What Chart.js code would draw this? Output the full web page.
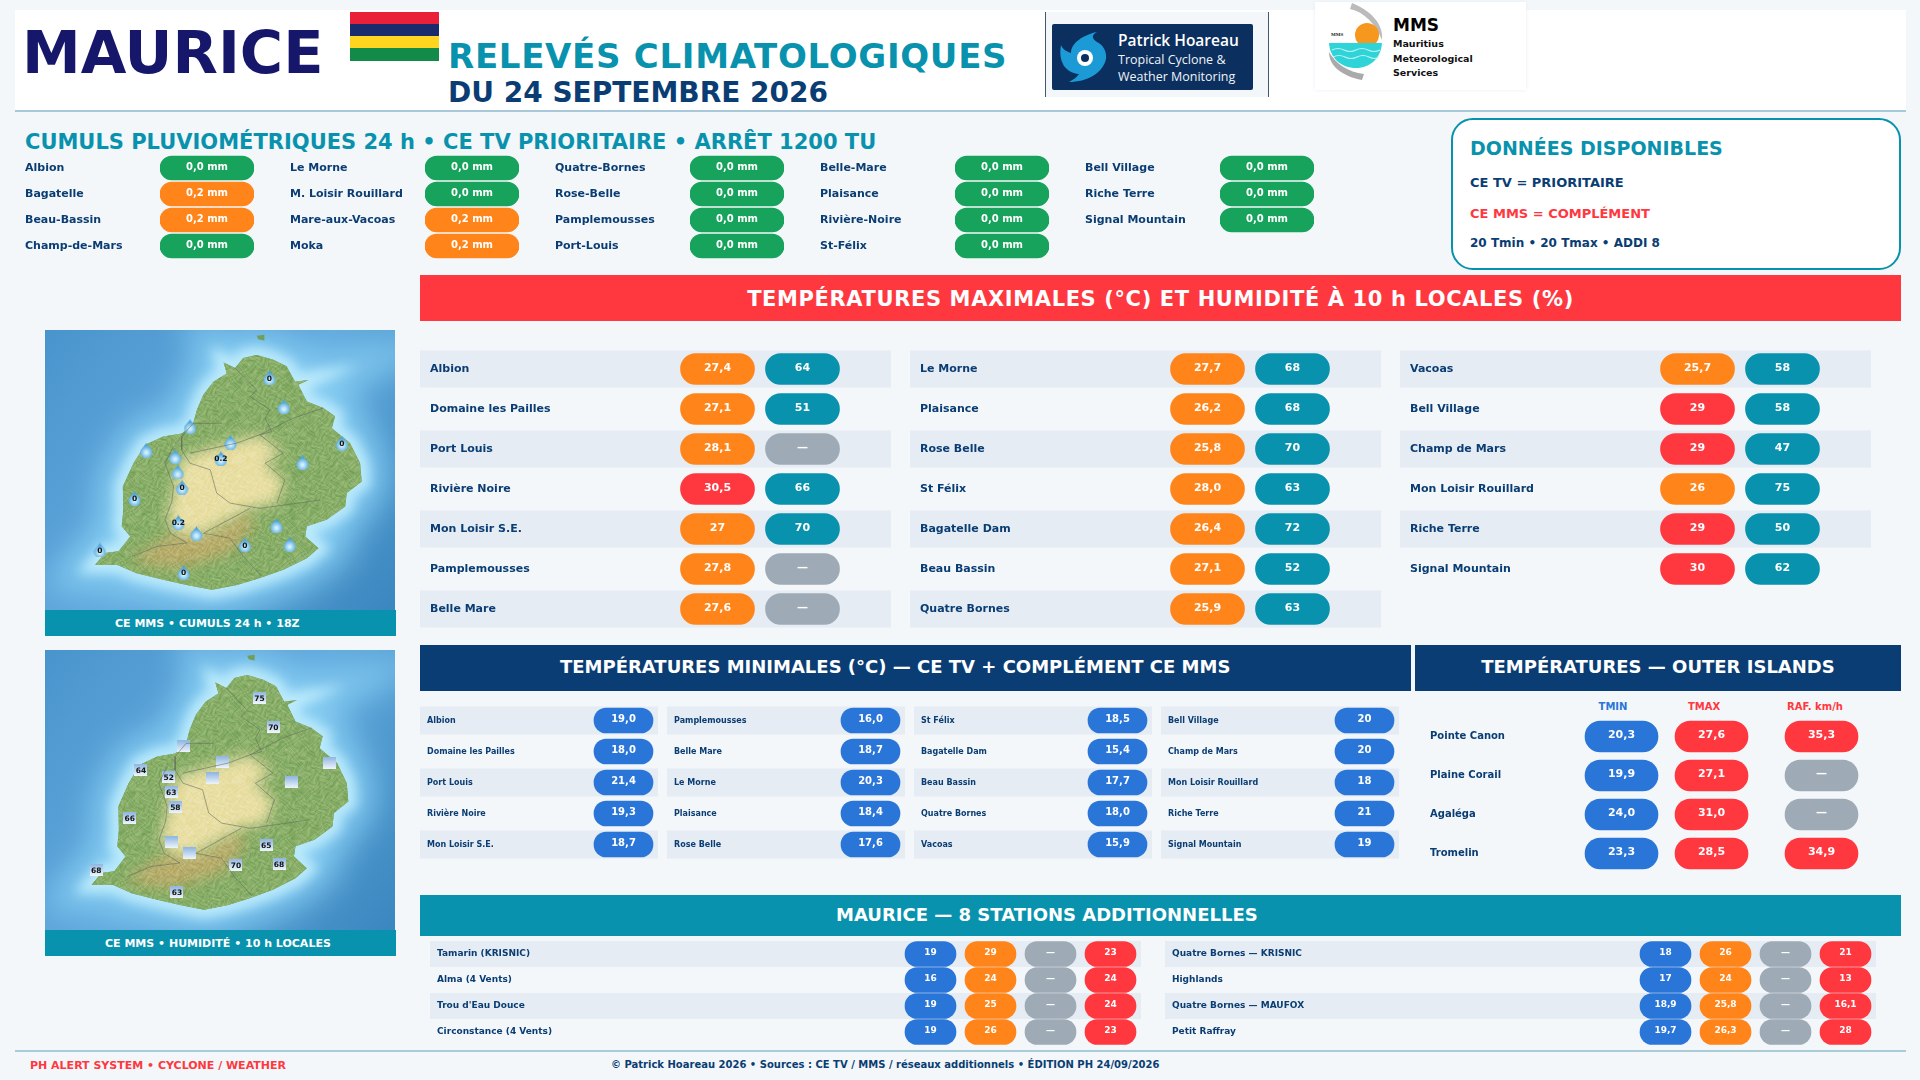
<!DOCTYPE html>
<html lang="fr">
<head>
<meta charset="UTF-8">
<title>Maurice - Relevés climatologiques</title>
<script src="https://cdn.jsdelivr.net/npm/chart.js"></script>
<style>
    * { box-sizing: border-box; margin: 0; padding: 0; }
    html, body { width: 1920px; height: 1080px; overflow: hidden; background: #f3f7fa; font-family: "DejaVu Sans", sans-serif; font-weight: bold; color: #0a3d73; }
    .box, canvas, .txt, svg { position: absolute; display: block; }
    .txt { transform: translateY(-50%); white-space: nowrap; }
    .band { position: absolute; display: flex; align-items: center; justify-content: center; color: #fff; white-space: nowrap; }
    .caption { position: absolute; left: 45px; width: 351px; height: 26px; background: #0892ad; color: #fff; font-size: 11px; display: flex; align-items: center; }
</style>
</head>
<body>

<!-- header -->
<div class="box" style="left:15px;top:10px;width:1891px;height:102px;background:#fff;border-bottom:2px solid #a9c9da"></div>
<div class="txt" style="left:22px;top:52px;font-size:59px;color:#16166b">MAURICE</div>
<div class="box" style="left:350px;top:12px;width:89px;height:12px;background:#ea2039"></div>
<div class="box" style="left:350px;top:24px;width:89px;height:12px;background:#1a2b6d"></div>
<div class="box" style="left:350px;top:36px;width:89px;height:12px;background:#ffd520"></div>
<div class="box" style="left:350px;top:48px;width:89px;height:13px;background:#138b48"></div>
<div class="txt" style="left:448px;top:56px;font-size:34px;color:#0892ad;letter-spacing:.7px">RELEVÉS CLIMATOLOGIQUES</div>
<div class="txt" style="left:448px;top:92px;font-size:28px;color:#0a3d73">DU 24 SEPTEMBRE 2026</div>

<!-- logo Patrick Hoareau -->
<div class="box" style="left:1045px;top:12px;width:224px;height:85px;background:#f4f7fa;border-left:1px solid #44586c;border-right:1px solid #44586c"></div>
<div class="box" style="left:1052px;top:24px;width:201px;height:66px;background:#0b2f5e;border-radius:2px"></div>
<svg style="left:1058px;top:30px" width="54" height="54" viewBox="-27 -27 54 54">
    <path d="M12 -25 C-2 -22 -14 -14 -14 -4 C-20 -6 -23 -9 -24 -12 C-27 4 -20 16 -6 17 C-8 20 -12 23 -16 25 C2 25 18 16 21 2 C22 -6 18 -12 12 -15 C7 -18 6 -22 12 -25 Z" fill="#1c9ad6"/>
    <circle cx="0" cy="1" r="8" fill="#fff"/>
    <circle cx="0" cy="1" r="4" fill="#0b2f5e"/>
</svg>
<div class="txt" style="left:1118px;top:40px;font:600 15.5px 'Open Sans';color:#fff">Patrick Hoareau</div>
<div class="txt" style="left:1118px;top:59px;font:400 12.5px 'Open Sans';color:#eef3f8">Tropical Cyclone &amp;</div>
<div class="txt" style="left:1118px;top:76px;font:400 12.5px 'Open Sans';color:#eef3f8">Weather Monitoring</div>

<!-- logo MMS -->
<div class="box" style="left:1315px;top:2px;width:211px;height:88px;background:#fff;box-shadow:0 0 4px #e6ecf1"></div>
<svg style="left:1326px;top:2px" width="60" height="80" viewBox="0 0 60 80">
    <path d="M26 1 C44 8 58 22 56 38 C50 22 38 10 24 7 Z" fill="#bbb"/>
    <path d="M36 78 C16 74 3 64 3 50 C10 62 22 70 38 72 Z" fill="#aaa"/>
    <circle cx="41" cy="33" r="12" fill="#f5981d"/>
    <path d="M3 41 H56 C55 56 44 66 30 66 C15 66 4 56 3 41 Z" fill="#2fd4d8"/>
    <path d="M6 48 Q12 45 18 48 T30 48 T42 48 T54 48 M7 55 Q13 52 19 55 T31 55 T43 55 T53 55" stroke="#bff3f3" stroke-width="1.2" fill="none"/>
    <text x="5" y="34" font-size="5" font-family="Liberation Serif" fill="#222">MMS</text>
</svg>
<div class="txt" style="left:1393px;top:25px;font-size:17px;color:#000">MMS</div>
<div class="txt" style="left:1393px;top:43px;font-size:9.5px;color:#111">Mauritius</div>
<div class="txt" style="left:1393px;top:58px;font-size:9.5px;color:#111">Meteorological</div>
<div class="txt" style="left:1393px;top:72px;font-size:9.5px;color:#111">Services</div>

<!-- rain -->
<div class="txt" style="left:25px;top:142px;font-size:21px;color:#0892ad">CUMULS PLUVIOMÉTRIQUES 24 h • CE TV PRIORITAIRE • ARRÊT 1200 TU</div>
<canvas id="rain1" style="left:25px;top:155px"></canvas>
<canvas id="rain2" style="left:290px;top:155px"></canvas>
<canvas id="rain3" style="left:555px;top:155px"></canvas>
<canvas id="rain4" style="left:820px;top:155px"></canvas>
<canvas id="rain5" style="left:1085px;top:155px"></canvas>

<div class="box" style="left:1451px;top:118px;width:450px;height:152px;background:#fff;border:2px solid #0892ad;border-radius:22px"></div>
<div class="txt" style="left:1470px;top:148px;font-size:19px;color:#0892ad">DONNÉES DISPONIBLES</div>
<div class="txt" style="left:1470px;top:182px;font-size:13px">CE TV = PRIORITAIRE</div>
<div class="txt" style="left:1470px;top:213px;font-size:13px;color:#ff383f">CE MMS = COMPLÉMENT</div>
<div class="txt" style="left:1470px;top:243px;font-size:12px">20 Tmin • 20 Tmax • ADDI 8</div>

<!-- maps -->
<canvas id="mapRain" style="left:45px;top:330px"></canvas>
<div class="caption" style="top:610px;padding-left:70px">CE MMS • CUMULS 24 h • 18Z</div>
<canvas id="mapHum" style="left:45px;top:650px"></canvas>
<div class="caption" style="top:930px;padding-left:60px">CE MMS • HUMIDITÉ • 10 h LOCALES</div>

<!-- tmax -->
<div class="band" style="left:420px;top:275px;width:1481px;height:46px;background:#ff383f;font-size:21px;letter-spacing:.62px;padding-top:1px">TEMPÉRATURES MAXIMALES (°C) ET HUMIDITÉ À 10 h LOCALES (%)</div>
<canvas id="tmax1" style="left:420px;top:349px"></canvas>
<canvas id="tmax2" style="left:910px;top:349px"></canvas>
<canvas id="tmax3" style="left:1400px;top:349px"></canvas>

<!-- tmin -->
<div class="band" style="left:420px;top:645px;width:991px;height:46px;background:#0a3d73;font-size:18px;justify-content:flex-start;padding:0 0 4px 140px">TEMPÉRATURES MINIMALES (°C) — CE TV + COMPLÉMENT CE MMS</div>
<canvas id="tmin1" style="left:420px;top:705px"></canvas>
<canvas id="tmin2" style="left:667px;top:705px"></canvas>
<canvas id="tmin3" style="left:914px;top:705px"></canvas>
<canvas id="tmin4" style="left:1161px;top:705px"></canvas>

<!-- outer islands -->
<div class="band" style="left:1415px;top:645px;width:486px;height:46px;background:#0a3d73;font-size:18px;padding-bottom:4px">TEMPÉRATURES — OUTER ISLANDS</div>
<div class="txt" style="left:1613px;top:706px;font-size:10px;color:#2a75d8;transform:translate(-50%,-50%)">TMIN</div>
<div class="txt" style="left:1704px;top:706px;font-size:10px;color:#ff383f;transform:translate(-50%,-50%)">TMAX</div>
<div class="txt" style="left:1815px;top:706px;font-size:10px;color:#ff383f;transform:translate(-50%,-50%)">RAF. km/h</div>
<canvas id="outer" style="left:1415px;top:717px"></canvas>

<!-- additional -->
<div class="band" style="left:420px;top:895px;width:1481px;height:41px;background:#0892ad;font-size:18px;justify-content:flex-start;padding:0 0 2px 416px">MAURICE — 8 STATIONS ADDITIONNELLES</div>
<canvas id="addi1" style="left:430px;top:941px"></canvas>
<canvas id="addi2" style="left:1165px;top:941px"></canvas>

<!-- footer -->
<div class="box" style="left:15px;top:1050px;width:1891px;height:2px;background:#a9cdd8"></div>
<div class="txt" style="left:30px;top:1065px;font-size:11px;color:#ff383f">PH ALERT SYSTEM • CYCLONE / WEATHER</div>
<div class="txt" style="left:611px;top:1064px;font-size:10px">© Patrick Hoareau 2026 • Sources : CE TV / MMS / réseaux additionnels • ÉDITION PH 24/09/2026</div>

<script>
// rain 24 h
const rainNames1 = ['Albion', 'Bagatelle', 'Beau-Bassin', 'Champ-de-Mars'];
const rainValues1 = ['0,0', '0,2', '0,2', '0,0'];
const rainNames2 = ['Le Morne', 'M. Loisir Rouillard', 'Mare-aux-Vacoas', 'Moka'];
const rainValues2 = ['0,0', '0,0', '0,2', '0,2'];
const rainNames3 = ['Quatre-Bornes', 'Rose-Belle', 'Pamplemousses', 'Port-Louis'];
const rainValues3 = ['0,0', '0,0', '0,0', '0,0'];
const rainNames4 = ['Belle-Mare', 'Plaisance', 'Rivière-Noire', 'St-Félix'];
const rainValues4 = ['0,0', '0,0', '0,0', '0,0'];
const rainNames5 = ['Bell Village', 'Riche Terre', 'Signal Mountain'];
const rainValues5 = ['0,0', '0,0', '0,0'];

// tmax + humidity
const tmaxNames1 = ['Albion', 'Domaine les Pailles', 'Port Louis', 'Rivière Noire', 'Mon Loisir S.E.', 'Pamplemousses', 'Belle Mare'];
const tmaxValues1 = ['27,4', '27,1', '28,1', '30,5', '27', '27,8', '27,6'];
const humValues1 = ['64', '51', null, '66', '70', null, null];
const tmaxNames2 = ['Le Morne', 'Plaisance', 'Rose Belle', 'St Félix', 'Bagatelle Dam', 'Beau Bassin', 'Quatre Bornes'];
const tmaxValues2 = ['27,7', '26,2', '25,8', '28,0', '26,4', '27,1', '25,9'];
const humValues2 = ['68', '68', '70', '63', '72', '52', '63'];
const tmaxNames3 = ['Vacoas', 'Bell Village', 'Champ de Mars', 'Mon Loisir Rouillard', 'Riche Terre', 'Signal Mountain'];
const tmaxValues3 = ['25,7', '29', '29', '26', '29', '30'];
const humValues3 = ['58', '58', '47', '75', '50', '62'];

// tmin
const tminNames1 = ['Albion', 'Domaine les Pailles', 'Port Louis', 'Rivière Noire', 'Mon Loisir S.E.'];
const tminValues1 = ['19,0', '18,0', '21,4', '19,3', '18,7'];
const tminNames2 = ['Pamplemousses', 'Belle Mare', 'Le Morne', 'Plaisance', 'Rose Belle'];
const tminValues2 = ['16,0', '18,7', '20,3', '18,4', '17,6'];
const tminNames3 = ['St Félix', 'Bagatelle Dam', 'Beau Bassin', 'Quatre Bornes', 'Vacoas'];
const tminValues3 = ['18,5', '15,4', '17,7', '18,0', '15,9'];
const tminNames4 = ['Bell Village', 'Champ de Mars', 'Mon Loisir Rouillard', 'Riche Terre', 'Signal Mountain'];
const tminValues4 = ['20', '20', '18', '21', '19'];

// outer islands
const outerNames = ['Pointe Canon', 'Plaine Corail', 'Agaléga', 'Tromelin'];
const outerTmin = ['20,3', '19,9', '24,0', '23,3'];
const outerTmax = ['27,6', '27,1', '31,0', '28,5'];
const outerGust = ['35,3', null, null, '34,9'];

// additional stations
const addiNames1 = ['Tamarin (KRISNIC)', 'Alma (4 Vents)', "Trou d'Eau Douce", 'Circonstance (4 Vents)'];
const addiTmin1 = ['19', '16', '19', '19'];
const addiTmax1 = ['29', '24', '25', '26'];
const addiRain1 = [null, null, null, null];
const addiGust1 = ['23', '24', '24', '23'];
const addiNames2 = ['Quatre Bornes — KRISNIC', 'Highlands', 'Quatre Bornes — MAUFOX', 'Petit Raffray'];
const addiTmin2 = ['18', '17', '18,9', '19,7'];
const addiTmax2 = ['26', '24', '25,8', '26,3'];
const addiRain2 = [null, null, null, null];
const addiGust2 = ['21', '13', '16,1', '28'];

// map stations, lon / lat
const stationLon = [57.627, 57.654, 57.763, 57.689, 57.554, 57.536, 57.478, 57.396, 57.450, 57.455, 57.463, 57.374, 57.456, 57.490, 57.640, 57.665, 57.581, 57.309, 57.466];
const stationLat = [-20.036, -20.102, -20.185, -20.229, -20.183, -20.220, -20.147, -20.201, -20.216, -20.251, -20.286, -20.311, -20.366, -20.391, -20.373, -20.416, -20.417, -20.429, -20.480];
const stationRain = ['0', null, '0', null, null, '0.2', null, null, null, null, '0', '0', '0.2', null, null, null, '0', '0', '0'];
const stationHum = ['75', '70', null, null, null, null, null, '64', '52', '63', '58', '66', null, null, '65', '68', '70', '68', '63'];

// island shapes
const coastLon = [57.541, 57.5625, 57.578, 57.603, 57.634, 57.659, 57.675, 57.700, 57.681, 57.697, 57.728, 57.750, 57.744, 57.778, 57.797, 57.800, 57.772, 57.769, 57.734, 57.697, 57.694, 57.719, 57.697, 57.653, 57.609, 57.566, 57.519, 57.472, 57.428, 57.378, 57.341, 57.300, 57.319, 57.344, 57.366, 57.350, 57.353, 57.352, 57.372, 57.394, 57.428, 57.463, 57.484, 57.491, 57.503, 57.522, 57.547];
const coastLat = [-20.001, -20.014, -19.991, -19.984, -19.995, -20.010, -20.045, -20.041, -20.052, -20.090, -20.105, -20.124, -20.151, -20.185, -20.231, -20.273, -20.299, -20.330, -20.360, -20.375, -20.398, -20.425, -20.448, -20.474, -20.493, -20.509, -20.520, -20.509, -20.497, -20.482, -20.463, -20.463, -20.436, -20.432, -20.398, -20.375, -20.337, -20.284, -20.231, -20.189, -20.170, -20.163, -20.140, -20.109, -20.075, -20.045, -20.026];
const plateauLon = [57.553, 57.609, 57.653, 57.616, 57.656, 57.641, 57.591, 57.528, 57.491, 57.453, 57.434, 57.447, 57.453, 57.472, 57.516];
const plateauLat = [-20.185, -20.166, -20.208, -20.231, -20.269, -20.322, -20.334, -20.375, -20.398, -20.391, -20.353, -20.299, -20.239, -20.216, -20.197];
const southLon = [57.366, 57.447, 57.528, 57.578, 57.603, 57.553, 57.459, 57.397];
const southLat = [-20.451, -20.391, -20.383, -20.341, -20.368, -20.436, -20.470, -20.463];
const isletLon = [57.603, 57.6175, 57.6175, 57.606];
const isletLat = [-19.940, -19.938, -19.951, -19.948];
const districtLines = [
    [[57.5625, -20.014], [57.603, -20.064], [57.591, -20.079], [57.628, -20.109], [57.619, -20.128], [57.631, -20.159], [57.609, -20.166], [57.653, -20.208], [57.619, -20.231], [57.656, -20.269], [57.641, -20.322]],
    [[57.728, -20.105], [57.672, -20.128], [57.609, -20.166], [57.566, -20.185], [57.478, -20.208]],
    [[57.5375, -20.140], [57.484, -20.140], [57.4625, -20.170], [57.4625, -20.201], [57.478, -20.231], [57.516, -20.246], [57.528, -20.299], [57.553, -20.322], [57.609, -20.334], [57.722, -20.315]],
    [[57.591, -20.334], [57.503, -20.391], [57.553, -20.402], [57.578, -20.444], [57.6125, -20.489]],
    [[57.447, -20.193], [57.431, -20.231], [57.447, -20.284], [57.444, -20.318], [57.431, -20.360], [57.441, -20.391], [57.472, -20.413], [57.416, -20.421], [57.369, -20.444]]
];

const FONT = '"DejaVu Sans", sans-serif';
const NAVY = '#0a3d73', GREEN = '#18a35d', ORANGE = '#ff851b', RED = '#ff383f', TEAL = '#0892ad', BLUE = '#2a75d8', GREY = '#9eaab6';

const num = s => parseFloat(s.replace(',', '.'));
const rainColor = v => num(v) > 0 ? ORANGE : GREEN;
const tmaxColor = v => num(v) >= 29 ? RED : ORANGE;
const fixed = c => () => c;

// stripes behind the rows, value text on top of the pills
const pillPlugin = {
    id: 'pillTable',
    beforeDraw(chart, args, o) {
        if (!o.stripeH) return;
        const ctx = chart.ctx, y = chart.scales.y;
        ctx.save();
        ctx.fillStyle = '#e5ecf3';
        chart.data.labels.forEach((l, i) => {
            if (i % 2 === 0) ctx.fillRect(0, y.getPixelForValue(i) - o.stripeH / 2, chart.width, o.stripeH);
        });
        ctx.restore();
    },
    afterDatasetsDraw(chart, args, o) {
        const ctx = chart.ctx;
        ctx.save();
        ctx.font = 'bold ' + o.valueSize + 'px ' + FONT;
        ctx.fillStyle = '#fff';
        ctx.textAlign = 'center';
        ctx.textBaseline = 'middle';
        chart.data.datasets.forEach((ds, d) => {
            chart.getDatasetMeta(d).data.forEach((bar, i) => {
                const v = ds.texts[i];
                const c = bar.getCenterPoint();
                ctx.fillText(v === null ? '—' : v + o.suffix, c.x, c.y - 1);
            });
        });
        ctx.restore();
    }
};

function pillTable(id, names, columns, s) {
    const canvas = document.getElementById(id);
    canvas.width = s.width;
    canvas.height = names.length * s.rowH;
    const slots = s.slots || columns.map((c, i) => i);
    const margin = (1 - s.fill) / 2;
    new Chart(canvas, {
        type: 'bar',
        data: {
            labels: names,
            datasets: columns.map((col, j) => ({
                data: col.values.map(() => [slots[j] + margin, slots[j] + 1 - margin]),
                texts: col.values,
                backgroundColor: col.values.map(v => v === null ? GREY : col.color(v)),
                barThickness: s.barH,
                borderRadius: s.barH / 2,
                borderSkipped: false,
                grouped: false
            }))
        },
        options: {
            indexAxis: 'y',
            responsive: false,
            animation: false,
            layout: { autoPadding: false, padding: { left: s.padLeft, right: s.padRight, top: 0, bottom: 0 } },
            plugins: {
                legend: { display: false },
                tooltip: { enabled: false },
                pillTable: { stripeH: s.stripeH, valueSize: s.valueSize, suffix: s.suffix || '' }
            },
            scales: {
                x: { type: 'linear', display: false, min: 0, max: slots[slots.length - 1] + 1 },
                y: {
                    grid: { display: false },
                    border: { display: false },
                    afterFit(scale) {
                        // rows must fill the canvas, no room for half a tick label
                        scale.width = s.labelW;
                        scale.paddingTop = 0;
                        scale.paddingBottom = 0;
                    },
                    ticks: { crossAlign: 'far', autoSkip: false, padding: 0, color: NAVY, font: { family: FONT, weight: 'bold', size: s.labelSize } }
                }
            }
        },
        plugins: [pillPlugin]
    });
}

const rainStyle = { width: 231, rowH: 26, barH: 24, padLeft: 0, padRight: 2, labelW: 135, fill: 1, labelSize: 11, valueSize: 10, suffix: ' mm' };
pillTable('rain1', rainNames1, [{ values: rainValues1, color: rainColor }], rainStyle);
pillTable('rain2', rainNames2, [{ values: rainValues2, color: rainColor }], rainStyle);
pillTable('rain3', rainNames3, [{ values: rainValues3, color: rainColor }], rainStyle);
pillTable('rain4', rainNames4, [{ values: rainValues4, color: rainColor }], rainStyle);
pillTable('rain5', rainNames5, [{ values: rainValues5, color: rainColor }], rainStyle);

const tmaxStyle = { width: 471, rowH: 40, barH: 31, stripeH: 37, padLeft: 10, padRight: 46, labelW: 245, fill: 74 / 85, labelSize: 11, valueSize: 11 };
pillTable('tmax1', tmaxNames1, [{ values: tmaxValues1, color: tmaxColor }, { values: humValues1, color: fixed(TEAL) }], tmaxStyle);
pillTable('tmax2', tmaxNames2, [{ values: tmaxValues2, color: tmaxColor }, { values: humValues2, color: fixed(TEAL) }], tmaxStyle);
pillTable('tmax3', tmaxNames3, [{ values: tmaxValues3, color: tmaxColor }, { values: humValues3, color: fixed(TEAL) }], tmaxStyle);

const tminStyle = { width: 238, rowH: 31, barH: 25, stripeH: 28, padLeft: 7, padRight: 3.5, labelW: 165.5, fill: 59 / 62, labelSize: 8, valueSize: 10 };
pillTable('tmin1', tminNames1, [{ values: tminValues1, color: fixed(BLUE) }], tminStyle);
pillTable('tmin2', tminNames2, [{ values: tminValues2, color: fixed(BLUE) }], tminStyle);
pillTable('tmin3', tminNames3, [{ values: tminValues3, color: fixed(BLUE) }], tminStyle);
pillTable('tmin4', tminNames4, [{ values: tminValues4, color: fixed(BLUE) }], tminStyle);

pillTable('outer', outerNames, [
    { values: outerTmin, color: fixed(BLUE) },
    { values: outerTmax, color: fixed(RED) },
    { values: outerGust, color: fixed(RED) }
], { width: 486, rowH: 39, barH: 31, padLeft: 15, padRight: 34.5, labelW: 146.5, slots: [0, 1, 2.222], fill: 73 / 90, labelSize: 10, valueSize: 11 });

const addiStyle = { width: 711, rowH: 26, barH: 25, stripeH: 26, padLeft: 7, padRight: 0.5, labelW: 463.5, fill: 51 / 60, labelSize: 9, valueSize: 9 };
pillTable('addi1', addiNames1, [
    { values: addiTmin1, color: fixed(BLUE) }, { values: addiTmax1, color: fixed(ORANGE) },
    { values: addiRain1, color: fixed(GREY) }, { values: addiGust1, color: fixed(RED) }
], addiStyle);
pillTable('addi2', addiNames2, [
    { values: addiTmin2, color: fixed(BLUE) }, { values: addiTmax2, color: fixed(ORANGE) },
    { values: addiRain2, color: fixed(GREY) }, { values: addiGust2, color: fixed(RED) }
], addiStyle);

// marker images for the two maps
function dropMarker() {
    const c = document.createElement('canvas');
    c.width = 13; c.height = 15;
    const g = c.getContext('2d');
    const grad = g.createRadialGradient(6.5, 10, 1, 6.5, 10, 7);
    grad.addColorStop(0, '#d2f0fc');
    grad.addColorStop(1, '#4ba3dc');
    g.fillStyle = grad;
    g.beginPath();
    g.moveTo(6.5, 0);
    g.bezierCurveTo(8, 4, 12.5, 6, 12.5, 9.5);
    g.arc(6.5, 9.5, 6, 0, Math.PI);
    g.bezierCurveTo(0.5, 6, 5, 4, 6.5, 0);
    g.fill();
    return c;
}
function boxMarker() {
    const c = document.createElement('canvas');
    c.width = 13; c.height = 12;
    const g = c.getContext('2d');
    const grad = g.createLinearGradient(0, 0, 0, 12);
    grad.addColorStop(0, '#8fb6e2');
    grad.addColorStop(1, '#f2f7fc');
    g.fillStyle = grad;
    g.fillRect(0, 0, 13, 12);
    return c;
}

// relief shading for the land, just a texture
function reliefTexture(w, h) {
    const c = document.createElement('canvas');
    c.width = w; c.height = h;
    const g = c.getContext('2d');
    const img = g.createImageData(w, h);
    for (let y = 0; y < h; y++) {
        for (let x = 0; x < w; x++) {
            const wx = x + 6 * Math.sin(y * 0.137) + 3 * Math.sin(y * 0.41 + x * 0.23);
            const wy = y + 6 * Math.sin(x * 0.113) + 3 * Math.sin(x * 0.37 - y * 0.19);
            const n = Math.sin(wx * 0.83 + wy * 0.31) + Math.sin(wx * 0.29 - wy * 1.07)
                + 0.7 * Math.sin(wx * 1.61 + wy * 0.97) + 0.7 * Math.sin(wx * 1.13 - wy * 1.73);
            const v = 128 + n * 26;
            const i = (y * w + x) * 4;
            img.data[i] = img.data[i + 1] = img.data[i + 2] = v;
            img.data[i + 3] = 255;
        }
    }
    g.putImageData(img, 0, 0);
    return c;
}
const relief = reliefTexture(350, 280);

const zipped = (xs, ys) => xs.map((x, i) => ({ x, y: ys[i] }));

// sea, halo and land are painted from the shape datasets via the scales
const terrainPlugin = {
    id: 'terrain',
    beforeDatasetsDraw(chart) {
        const ctx = chart.ctx, a = chart.chartArea;
        const pathOf = idx => {
            ctx.beginPath();
            chart.getDatasetMeta(idx).data.forEach((p, i) => i ? ctx.lineTo(p.x, p.y) : ctx.moveTo(p.x, p.y));
            ctx.closePath();
        };
        ctx.save();
        const sea = ctx.createLinearGradient(a.left, a.top, a.right, a.bottom);
        sea.addColorStop(0, '#4a94cd');
        sea.addColorStop(0.5, '#62aade');
        sea.addColorStop(1, '#3a86be');
        ctx.fillStyle = sea;
        ctx.fillRect(a.left, a.top, a.width, a.height);

        ctx.filter = 'blur(16px)';
        ctx.strokeStyle = '#86cdf2';
        ctx.lineWidth = 48;
        pathOf(0);
        ctx.stroke();
        ctx.filter = 'blur(6px)';
        ctx.strokeStyle = '#bdebfc';
        ctx.lineWidth = 16;
        pathOf(0);
        ctx.stroke();
        ctx.filter = 'none';

        ctx.fillStyle = '#6f9f58';
        pathOf(3);
        ctx.fill();
        pathOf(0);
        ctx.fill();
        ctx.clip();
        ctx.fillStyle = '#88ae68';
        ctx.fillRect(a.left, a.top, a.width, a.height);
        ctx.filter = 'blur(7px)';
        ctx.fillStyle = '#b9ad6c';
        pathOf(2);
        ctx.fill();
        ctx.fillStyle = '#e9dfa4';
        pathOf(1);
        ctx.fill();
        ctx.filter = 'blur(0.5px)';
        ctx.globalCompositeOperation = 'overlay';
        ctx.globalAlpha = 0.32;
        ctx.drawImage(relief, a.left, a.top);
        ctx.restore();
    },
    afterDatasetsDraw(chart) {
        const ctx = chart.ctx;
        const idx = chart.data.datasets.length - 1;
        const texts = chart.data.datasets[idx].texts;
        ctx.save();
        ctx.font = 'bold 7.5px ' + FONT;
        ctx.fillStyle = '#111';
        ctx.textAlign = 'center';
        ctx.textBaseline = 'middle';
        chart.getDatasetMeta(idx).data.forEach((p, i) => {
            if (texts[i]) ctx.fillText(texts[i], p.x, p.y + 1);
        });
        ctx.restore();
    }
};

function mapChart(id, lonMin, lonMax, marker, texts) {
    const canvas = document.getElementById(id);
    canvas.width = 350;
    canvas.height = 280;
    const shape = (xs, ys) => ({ data: zipped(xs, ys), showLine: false, pointRadius: 0 });
    new Chart(canvas, {
        type: 'scatter',
        data: {
            datasets: [
                shape(coastLon, coastLat),
                shape(plateauLon, plateauLat),
                shape(southLon, southLat),
                shape(isletLon, isletLat),
                ...districtLines.map(line => ({
                    data: line.map(p => ({ x: p[0], y: p[1] })),
                    showLine: true, pointRadius: 0, borderColor: 'rgba(95,105,95,.7)', borderWidth: 0.8
                })),
                { data: zipped(stationLon, stationLat), pointStyle: marker, texts: texts, showLine: false }
            ]
        },
        options: {
            responsive: false,
            animation: false,
            layout: { autoPadding: false, padding: 0 },
            plugins: { legend: { display: false }, tooltip: { enabled: false } },
            scales: {
                x: { type: 'linear', display: false, min: lonMin, max: lonMax },
                y: { type: 'linear', display: false, min: -20.566, max: -19.927 }
            }
        },
        plugins: [terrainPlugin]
    });
}

mapChart('mapRain', 57.206, 57.8625, dropMarker(), stationRain);
mapChart('mapHum', 57.209, 57.891, boxMarker(), stationHum);
</script>
</body>
</html>
